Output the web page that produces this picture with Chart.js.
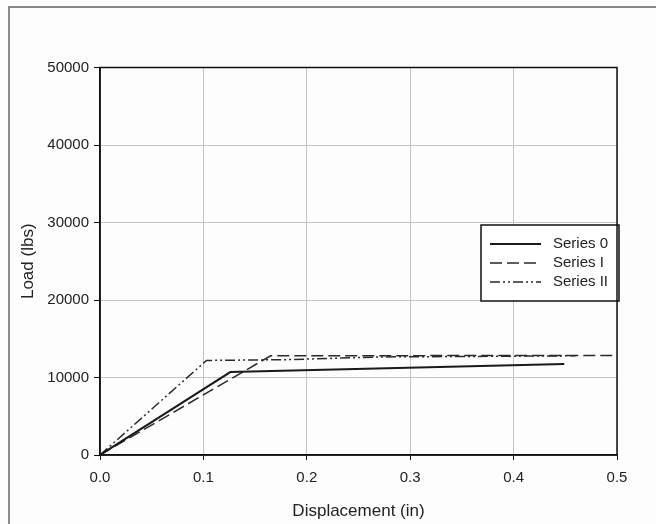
<!DOCTYPE html>
<html>
<head>
<meta charset="utf-8">
<script src="https://cdn.jsdelivr.net/npm/chart.js@4"></script>
<style>
  html, body { margin: 0; padding: 0; background: #fdfdfd; }
  #wrap { position: relative; width: 656px; height: 524px; }
  #frame { position: absolute; left: 8px; top: 6px; right: 0; bottom: 0;
           border-top: 2px solid #8a8a8a; border-left: 2px solid #8a8a8a; }
  canvas { position: absolute; left: 0; top: 0; }
</style>
</head>
<body>
<div id="wrap">
  <div id="frame"></div>
  <canvas id="c" width="656" height="524"></canvas>
</div>
<script>
// values
const seriesNames = ['Series 0', 'Series I', 'Series II'];
const s0x = [0, 0.126, 0.449];
const s0y = [0, 10700, 11730];
const s1x = [0, 0.165, 0.5];
const s1y = [0, 12800, 12850];
const s2x = [0, 0.103, 0.18, 0.27, 0.46];
const s2y = [0, 12200, 12300, 12650, 12800];
const xTicks = [0, 0.1, 0.2, 0.3, 0.4, 0.5];
const yTicks = [0, 10000, 20000, 30000, 40000, 50000];

const pts = (xs, ys) => xs.map((x, i) => ({ x: x, y: ys[i] }));
const FONT = "'Liberation Sans', Arial, sans-serif";

// draws the black frame round the plot area
const plotBox = {
    id: 'plotBox',
    afterDraw(chart) {
        const { ctx, chartArea: a } = chart;
        ctx.save();
        ctx.strokeStyle = '#111';
        ctx.lineWidth = 1.5;
        ctx.strokeRect(a.left, a.top, a.right - a.left, a.bottom - a.top);
        ctx.restore();
    }
};

// legend box inside the plot, right side
const boxLegend = {
    id: 'boxLegend',
    afterDatasetsDraw(chart) {
        const { ctx } = chart;
        const left = 481, top = 225, w = 138, h = 76;
        ctx.save();
        ctx.fillStyle = '#fff';
        ctx.fillRect(left, top, w, h);
        ctx.strokeStyle = '#111';
        ctx.lineWidth = 1.5;
        ctx.strokeRect(left, top, w, h);
        ctx.font = '15px ' + FONT;
        ctx.textBaseline = 'middle';
        chart.data.datasets.forEach((ds, i) => {
            const y = top + 19 + i * 19;
            ctx.strokeStyle = ds.borderColor;
            ctx.lineWidth = ds.borderWidth;
            ctx.setLineDash(ds.borderDash || []);
            ctx.beginPath();
            ctx.moveTo(left + 9, y);
            ctx.lineTo(left + 60, y);
            ctx.stroke();
            ctx.setLineDash([]);
            ctx.fillStyle = '#222';
            ctx.fillText(ds.label, left + 72, y);
        });
        ctx.restore();
    }
};

new Chart(document.getElementById('c'), {
    type: 'line',
    data: {
        datasets: [
            { label: seriesNames[0], data: pts(s0x, s0y), borderColor: '#1a1a1a', borderWidth: 2, borderDash: [] },
            { label: seriesNames[1], data: pts(s1x, s1y), borderColor: '#2a2a2a', borderWidth: 1.5, borderDash: [12, 5] },
            { label: seriesNames[2], data: pts(s2x, s2y), borderColor: '#2a2a2a', borderWidth: 1.5, borderDash: [10, 3, 2, 3, 2, 3] }
        ]
    },
    options: {
        responsive: false,
        animation: false,
        layout: { padding: { left: 8, top: 67.5, right: 39, bottom: 0 } },
        elements: { point: { radius: 0 }, line: { tension: 0 } },
        plugins: { legend: { display: false }, tooltip: { enabled: false } },
        scales: {
            x: {
                type: 'linear', min: 0, max: 0.5,
                afterFit: s => { s.height = 69; },
                afterBuildTicks: s => { s.ticks = xTicks.map(v => ({ value: v })); },
                ticks: { color: '#222', font: { family: FONT, size: 15 }, padding: 9,
                         callback: v => v.toFixed(1) },
                grid: { color: '#c4c4c4', lineWidth: 1, tickColor: '#111', tickLength: 5 },
                border: { color: '#111', width: 1.5 },
                title: { display: true, text: 'Displacement (in)', color: '#222',
                         font: { family: FONT, size: 17 }, padding: { bottom: 2 } }
            },
            y: {
                type: 'linear', min: 0, max: 50000,
                afterFit: s => { s.width = 92; },
                afterBuildTicks: s => { s.ticks = yTicks.map(v => ({ value: v })); },
                ticks: { color: '#222', font: { family: FONT, size: 15 }, padding: 5,
                         callback: v => String(v) },
                grid: { color: '#c4c4c4', lineWidth: 1, tickColor: '#111', tickLength: 6 },
                border: { color: '#111', width: 1.5 },
                title: { display: true, text: 'Load (lbs)', color: '#222',
                         font: { family: FONT, size: 17 }, padding: { top: 10 } }
            }
        }
    },
    plugins: [plotBox, boxLegend]
});
</script>
</body>
</html>
